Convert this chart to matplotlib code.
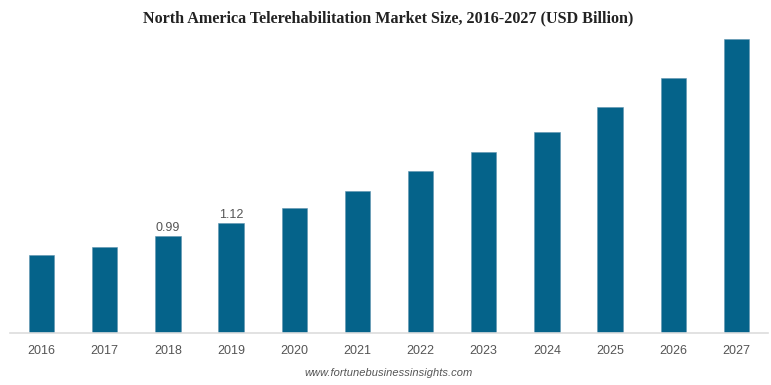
import numpy as np
import matplotlib.pyplot as plt

# Data
years = ['2016', '2017', '2018', '2019', '2020', '2021', '2022', '2023',
         '2024', '2025', '2026', '2027']
values = [0.80, 0.88, 0.99, 1.12, 1.27, 1.45, 1.65, 1.85, 2.05, 2.30, 2.60, 3.00]
labelled = {'2018': '0.99', '2019': '1.12'}

bar_color = '#05638a'
text_gray = '#555555'

fig = plt.figure(figsize=(7.71, 3.85), dpi=100)
ax = fig.add_axes([10 / 771, 1 - 333 / 385, 758 / 771, 303 / 385])

x = np.arange(len(years))
ax.bar(x, values, width=0.4, color=bar_color, edgecolor='#5f95b0', linewidth=0.4)

for i, yr in enumerate(years):
    if yr in labelled:
        ax.text(x[i], values[i] + 0.02, labelled[yr], ha='center', va='bottom',
                fontsize=9, color=text_gray, family='Liberation Sans')

ax.set_xlim(-0.5, len(years) - 0.5)
ax.set_ylim(0, 3.09)
ax.set_xticks(x)
ax.set_xticklabels(years, fontsize=9, color=text_gray, family='Liberation Sans')
ax.tick_params(axis='x', length=0, pad=9)
ax.set_yticks([])
for s in ['top', 'right', 'left']:
    ax.spines[s].set_visible(False)
ax.spines['bottom'].set_color('#dddddd')
ax.spines['bottom'].set_linewidth(1.2)

fig.text(388 / 771, 1 - 18 / 385, 'North America Telerehabilitation Market Size, 2016-2027 (USD Billion)',
         ha='center', va='center', fontsize=11.6, fontweight='bold',
         family='Liberation Serif', color='#222222')
fig.text(389 / 771, 1 - 373 / 385, 'www.fortunebusinessinsights.com', ha='center',
         va='center', fontsize=8, style='italic', color=text_gray,
         family='Liberation Sans')

fig.savefig('out.png', dpi=100)
